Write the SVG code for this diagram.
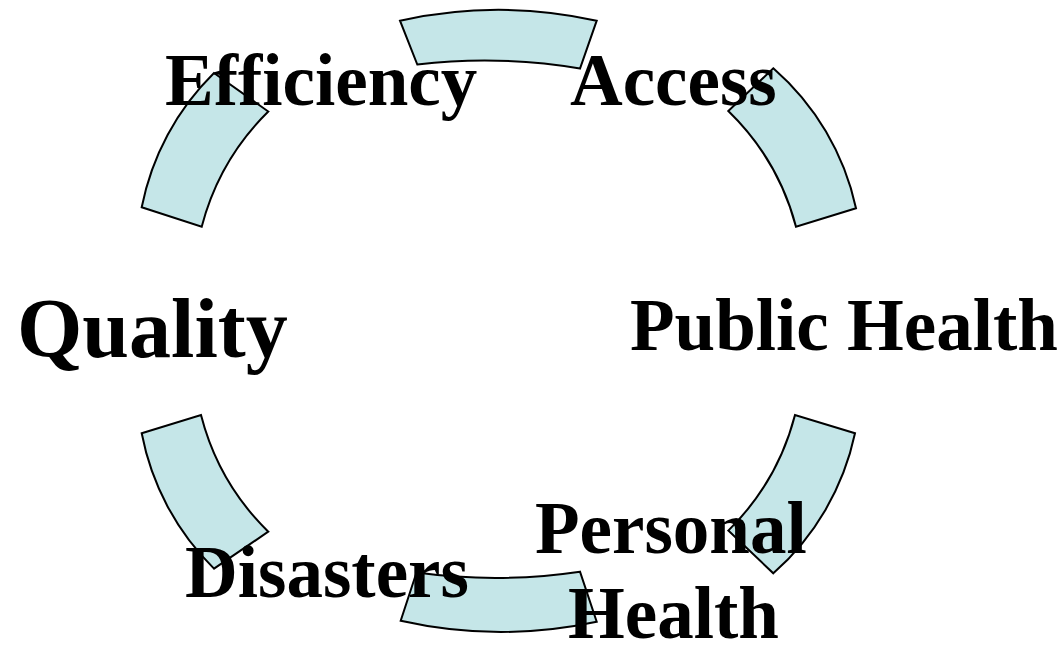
<svg xmlns="http://www.w3.org/2000/svg" width="1061" height="647" viewBox="0 0 1061 647">
  <style>
    .seg { fill: #C5E6E8; stroke: #000000; stroke-width: 2; stroke-linejoin: miter; }
    .lbl { font-family: "Liberation Serif", "Times New Roman", serif; font-weight: bold; font-size: 73px; fill: #000000; }
    .big { font-size: 84px; }
  </style>
  <rect x="0" y="0" width="1061" height="647" fill="#ffffff"/>
  <g id="connectors">
    <path class="seg" d="M 400,20.7 A 457,457 0 0 1 596.7,20.7 L 580,68.5 A 580,580 0 0 0 417.3,64.5 Z"/>
    <path class="seg" d="M 773.3,68.3 A 258,258 0 0 1 856,208.3 L 796,226.7 A 250,250 0 0 0 728.3,111 Z"/>
    <path class="seg" d="M 855,433.3 A 258,258 0 0 1 773.3,573.3 L 728.3,530.6 A 250,250 0 0 0 795,415 Z"/>
    <path class="seg" d="M 596.7,621.7 A 457,457 0 0 1 400.7,620.7 L 416.5,572.5 A 580,580 0 0 0 580,571.7 Z"/>
    <path class="seg" d="M 214,568.6 A 258,258 0 0 1 141.7,433.3 L 201,415 A 250,250 0 0 0 268.3,531.7 Z"/>
    <path class="seg" d="M 141.7,207.3 A 258,258 0 0 1 214,73 L 268.3,111.5 A 250,250 0 0 0 201.7,226.7 Z"/>
  </g>
  <g id="node-efficiency"><text class="lbl" x="165" y="105">Efficiency</text></g>
  <g id="node-access"><text class="lbl" x="570" y="105">Access</text></g>
  <g id="node-public-health"><text class="lbl" x="630" y="350">Public Health</text></g>
  <g id="node-personal-health"><text class="lbl" x="535" y="553">Personal</text><text class="lbl" x="568" y="638">Health</text></g>
  <g id="node-disasters"><text class="lbl" x="185" y="597">Disasters</text></g>
  <g id="node-quality"><text class="lbl big" x="17" y="357">Quality</text></g>
</svg>
